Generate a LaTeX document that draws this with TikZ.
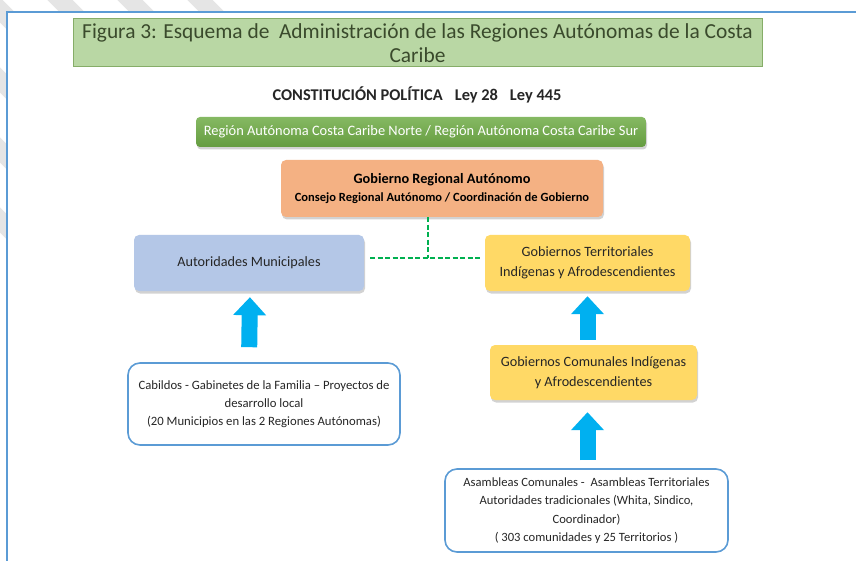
\documentclass[tikz,border=0pt]{standalone}
\usepackage{fontspec}
\setmainfont{Carlito}
\usetikzlibrary{positioning,calc,shadows,arrows.meta}
\definecolor{framebl}{HTML}{5B9BD5}
\definecolor{titlegr}{HTML}{B9D7A4}
\definecolor{titleln}{HTML}{86AD68}
\definecolor{titletx}{HTML}{3A4A2C}
\definecolor{regiongr}{HTML}{70AD47}
\definecolor{gobor}{HTML}{F4B183}
\definecolor{munibl}{HTML}{B4C7E7}
\definecolor{terrye}{HTML}{FFD966}
\definecolor{arrowcy}{HTML}{00B0F0}
\definecolor{dashgr}{HTML}{00B050}
\definecolor{darktx}{HTML}{262626}
\tikzset{
  stripe/.style={line width=18pt,gray!20},
  colbox/.style={rounded corners=5pt,align=center,text=darktx,inner sep=2pt,
    drop shadow={shadow xshift=1pt,shadow yshift=-2.5pt,opacity=0.35}},
  whitebox/.style={draw=framebl,line width=1.6pt,fill=white,rounded corners=12pt,
    align=center,text=darktx,inner sep=2pt},
  uparrow/.style={arrowcy,line width=16pt,-{Triangle[width=32pt,length=18pt]}},
  dashlink/.style={dashgr,line width=1.3pt,dash pattern=on 5pt off 2.5pt}
}
\begin{document}
\begin{tikzpicture}[x=1pt,y=-1pt]
\useasboundingbox (0,0) rectangle (856,561);
\clip (0,0) rectangle (856,561);
% background stripes and frame
\foreach \c in {-310,-240,-170,-100,-30,40,110,180}
  \draw[stripe] (\c,-20) -- ++(300,300);
\draw[framebl,line width=1.5pt,fill=white] (7,12) rectangle (880,590);
% title
\draw (417.5,43) node[fill=titlegr,draw=titleln,line width=1pt,minimum width=689pt,
  minimum height=48pt,align=center,text=titletx,inner sep=0pt,
  font=\fontsize{21.4}{24}\selectfont] (title)
  {Figura 3: Esquema de \ Administración de las Regiones Autónomas de la Costa\\Caribe};
\draw (417,95) node[font=\fontsize{16.4}{18}\selectfont\bfseries,text=darktx] (const)
  {CONSTITUCIÓN POLÍTICA\hspace{12pt}Ley 28\hspace{12pt}Ley 445};
% boxes
\draw (421,132) node[colbox,top color=regiongr!85!white,bottom color=regiongr!90!black,
  text=white,minimum width=450pt,minimum height=30pt,rounded corners=4pt,
  font=\fontsize{14.4}{15}\selectfont] (region)
  {Región Autónoma Costa Caribe Norte / Región Autónoma Costa Caribe Sur};
\draw (442,188.5) node[colbox,fill=gobor,text=black,minimum width=322pt,minimum height=57pt] (gob)
  {{\fontsize{14.3}{18}\selectfont\bfseries Gobierno Regional Autónomo}\\[6pt]
   {\fontsize{12.5}{14}\selectfont\bfseries Consejo Regional Autónomo / Coordinación de Gobierno}};
\draw (249,263) node[colbox,fill=munibl,minimum width=230pt,minimum height=56pt,
  font=\fontsize{14.2}{17}\selectfont] (muni) {Autoridades Municipales};
\draw (587.5,263) node[colbox,fill=terrye,minimum width=205pt,minimum height=56pt,
  font=\fontsize{14.2}{20}\selectfont] (terr) {Gobiernos Territoriales\\Indígenas y Afrodescendientes};
\draw (593.5,372.5) node[colbox,fill=terrye,minimum width=207pt,minimum height=55pt,
  font=\fontsize{14.2}{20}\selectfont] (comu) {Gobiernos Comunales Indígenas\\y Afrodescendientes};
\draw (264,404) node[whitebox,minimum width=272pt,minimum height=82pt,
  font=\fontsize{12.7}{18}\selectfont] (cab)
  {Cabildos - Gabinetes de la Familia – Proyectos de\\desarrollo local\\(20 Municipios en las 2 Regiones Autónomas)};
\draw (586.5,510.5) node[whitebox,minimum width=283pt,minimum height=83pt,
  font=\fontsize{12.6}{18.5}\selectfont] (asam)
  {Asambleas Comunales - \ Asambleas Territoriales\\Autoridades tradicionales (Whita, Sindico,\\Coordinador)\\( 303 comunidades y 25 Territorios )};
% dashed links
\coordinate (jn) at (428,258);
\draw[dashlink] (gob.south -| jn) -- (jn);
\draw[dashlink] ([xshift=6pt]muni.east |- jn) -- ([xshift=-4pt]terr.west |- jn);
% block arrows
\draw[uparrow,shorten <=15pt,shorten >=6pt] (muni.south |- cab.north) -- ([xshift=1pt]muni.south);
\draw[uparrow,shorten <=5pt,shorten >=5pt] (terr.south |- comu.north) -- (terr.south);
\draw[uparrow,shorten <=8pt,shorten >=12pt] (terr.south |- asam.north) -- (terr.south |- comu.south);
\end{tikzpicture}
\end{document}
